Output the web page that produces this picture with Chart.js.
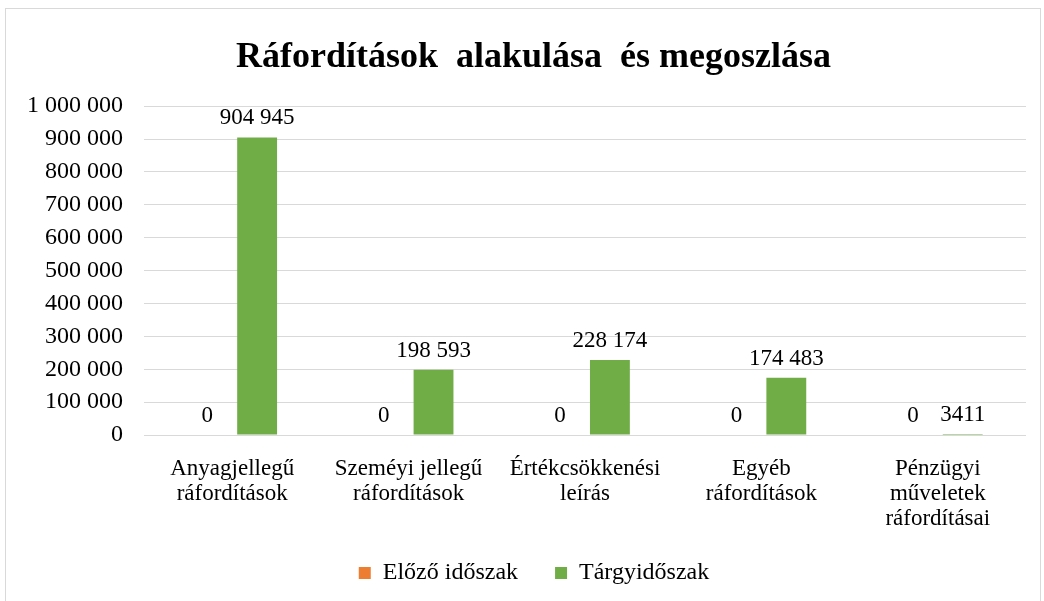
<!DOCTYPE html>
<html>
<head>
<meta charset="utf-8">
<script src="https://cdn.jsdelivr.net/npm/chart.js@4"></script>
<style>
  body { margin: 0; background: #fff; }
  #wrap { position: absolute; left: 5px; top: 8px; width: 1036px; height: 593px; border: 1px solid #d9d9d9; border-bottom: none; box-sizing: border-box; }
</style>
</head>
<body>
<div id="wrap"><canvas id="chart-costs"></canvas></div>
<script>
const categories = [
  ['Anyagjellegű', 'ráfordítások'],
  ['Szeméyi jellegű', 'ráfordítások'],
  ['Értékcsökkenési', 'leírás'],
  ['Egyéb', 'ráfordítások'],
  ['Pénzügyi', 'műveletek', 'ráfordításai']
];
const previousPeriod = [0, 0, 0, 0, 0];
const currentPeriod = [904945, 198593, 228174, 174483, 3411];
const seriesNames = ['Előző időszak', 'Tárgyidőszak'];

const serif = `'Liberation Serif', 'Times New Roman', serif`;

const fmt = (v) => v >= 10000 ? String(v).replace(/\B(?=(\d{3})+(?!\d))/g, ' ') : String(v);

// value labels above each bar
const valueLabels = {
  id: 'valueLabels',
  afterDatasetsDraw(chart) {
    const ctx = chart.ctx;
    ctx.save();
    ctx.font = `23px ${serif}`;
    ctx.fillStyle = '#000';
    ctx.textAlign = 'center';
    ctx.textBaseline = 'alphabetic';
    chart.data.datasets.forEach((ds, i) => {
      chart.getDatasetMeta(i).data.forEach((bar, j) => {
        ctx.fillText(fmt(ds.data[j]), bar.x, bar.y - 13);
      });
    });
    ctx.restore();
  }
};

// let the x labels run past the squeezed axis box, centre title/legend like the original
const nudge = {
  id: 'nudge',
  afterLayout(chart) {
    chart.scales.x.bottom += 40;
    chart.titleBlock.left += 35;
    chart.legend.left += 36;
  }
};

const costs = document.getElementById('chart-costs');
new Chart(costs, {
  type: 'bar',
  data: {
    labels: categories,
    datasets: [
      { label: seriesNames[0], data: previousPeriod, backgroundColor: '#ED7D31' },
      { label: seriesNames[1], data: currentPeriod, backgroundColor: '#70AD47' }
    ]
  },
  options: {
    responsive: true,
    maintainAspectRatio: false,
    animation: false,
    categoryPercentage: 0.565,
    barPercentage: 0.8,
    layout: { padding: { left: 0, right: 14, top: 4, bottom: 6 } },
    plugins: {
      title: {
        display: true,
        text: 'Ráfordítások  alakulása  és megoszlása',
        color: '#000',
        font: { family: serif, size: 36, weight: 'bold' },
        padding: { top: 23, bottom: 27 }
      },
      legend: {
        position: 'bottom',
        labels: {
          color: '#000',
          font: { family: serif, size: 24 },
          boxWidth: 12,
          boxHeight: 12,
          padding: 37
        }
      },
      tooltip: { enabled: false }
    },
    scales: {
      x: {
        grid: { display: false },
        border: { display: false },
        ticks: { color: '#000', font: { family: serif, size: 23, lineHeight: 1.08 }, maxRotation: 0, padding: 14 },
        afterFit: (scale) => { scale.height = 89; }
      },
      y: {
        min: 0,
        max: 1000000,
        grid: { color: '#d9d9d9', drawTicks: false },
        border: { display: false },
        ticks: {
          stepSize: 100000,
          color: '#000',
          padding: 21,
          font: { family: serif, size: 24 },
          callback: (v) => String(v).replace(/\B(?=(\d{3})+(?!\d))/g, ' ')
        }
      }
    }
  },
  plugins: [valueLabels, nudge]
});
</script>
</body>
</html>
